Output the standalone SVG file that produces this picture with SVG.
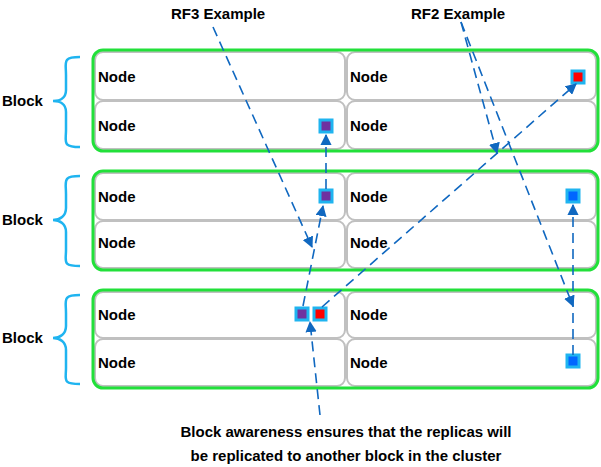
<svg xmlns="http://www.w3.org/2000/svg" width="601" height="467" viewBox="0 0 601 467">
<defs>
<style>
text{font-family:"Liberation Sans",Arial,sans-serif;font-weight:bold;font-size:15px;fill:#000}
.blk{fill:none;stroke:#22e03a;stroke-width:3}
.node{fill:#fff;stroke:#c0c0c0;stroke-width:2}
.br{fill:none;stroke:#1fb4f0;stroke-width:2.5}
.sq{stroke:#1fb4f0;stroke-width:3}
.c{fill:none;stroke:#1068c0;stroke-width:1.6;stroke-dasharray:10 6}
</style>
<marker id="a" viewBox="0 0 10 10" refX="9" refY="5" markerWidth="7" markerHeight="7" orient="auto"><path d="M0,0L10,5L0,10z" fill="#1068c0"/></marker>
</defs>
<g id="block1">
<rect class="node" x="95" y="52" width="250" height="48" rx="8"/><rect class="node" x="347" y="52" width="249" height="48" rx="8"/>
<rect class="node" x="95" y="101" width="250" height="48" rx="8"/><rect class="node" x="347" y="101" width="249" height="48" rx="8"/>
<rect class="blk" x="93" y="50" width="505" height="101" rx="10"/>
<text x="98" y="82">Node</text><text x="350" y="82">Node</text><text x="98" y="131">Node</text><text x="350" y="131">Node</text>
<path class="br" d="M80,57 C62,57 66,62 66,75 V90 C66,98 60,101 53,101 C60,101 66,104 66,112 V130 C66,142 62,147 80,147"/>
<text x="2" y="106">Block</text>
</g>
<g id="block2">
<rect class="node" x="95" y="173" width="250" height="47" rx="8"/><rect class="node" x="347" y="173" width="249" height="47" rx="8"/>
<rect class="node" x="95" y="221" width="250" height="47" rx="8"/><rect class="node" x="347" y="221" width="249" height="47" rx="8"/>
<rect class="blk" x="93" y="171" width="505" height="99" rx="10"/>
<text x="98" y="202">Node</text><text x="350" y="202">Node</text><text x="98" y="248">Node</text><text x="350" y="248">Node</text>
<path class="br" d="M80,176 C62,176 66,181 66,194 V208 C66,216 60,220 53,220 C60,220 66,224 66,232 V250 C66,262 62,266 80,266"/>
<text x="2" y="225">Block</text>
</g>
<g id="block3">
<rect class="node" x="95" y="292" width="250" height="46" rx="8"/><rect class="node" x="347" y="292" width="249" height="46" rx="8"/>
<rect class="node" x="95" y="339" width="250" height="47" rx="8"/><rect class="node" x="347" y="339" width="249" height="47" rx="8"/>
<rect class="blk" x="93" y="290" width="505" height="98" rx="10"/>
<text x="98" y="320">Node</text><text x="350" y="320">Node</text><text x="98" y="368">Node</text><text x="350" y="368">Node</text>
<path class="br" d="M80,295 C62,295 66,300 66,313 V326 C66,334 60,338 53,338 C60,338 66,342 66,350 V368 C66,380 62,384 80,384"/>
<text x="2" y="343">Block</text>
</g>
<g id="replicas">
<rect class="sq" x="320" y="120" width="12" height="12" fill="#7030a0"/>
<rect class="sq" x="572" y="71" width="12" height="12" fill="#ff0000"/>
<rect class="sq" x="320" y="190" width="12" height="12" fill="#7030a0"/>
<rect class="sq" x="567" y="190" width="12" height="12" fill="#0066ff"/>
<rect class="sq" x="296" y="308" width="12" height="12" fill="#7030a0"/>
<rect class="sq" x="314" y="308" width="12" height="12" fill="#ff0000"/>
<rect class="sq" x="567" y="355" width="12" height="12" fill="#0066ff"/>
</g>
<g id="connectors">
<path class="c" d="M213,27 L312,247" marker-end="url(#a)"/>
<path class="c" d="M303,306 L323,206" marker-end="url(#a)"/>
<path class="c" d="M326,189 L326,135" marker-end="url(#a)"/>
<path class="c" d="M322,307 L576,84" marker-end="url(#a)"/>
<path class="c" d="M461,22 L497,153" marker-end="url(#a)"/>
<path class="c" d="M461,22 L573,306" marker-end="url(#a)"/>
<path class="c" d="M573,355 L573,205" marker-end="url(#a)"/>
<path class="c" d="M320,415 L310,322" marker-end="url(#a)"/>
</g>
<g id="labels">
<text x="171" y="19">RF3 Example</text>
<text x="411" y="19">RF2 Example</text>
<text x="346" y="437" text-anchor="middle">Block awareness ensures that the replicas will</text>
<text x="346" y="461" text-anchor="middle">be replicated to another block in the cluster</text>
</g>
</svg>
